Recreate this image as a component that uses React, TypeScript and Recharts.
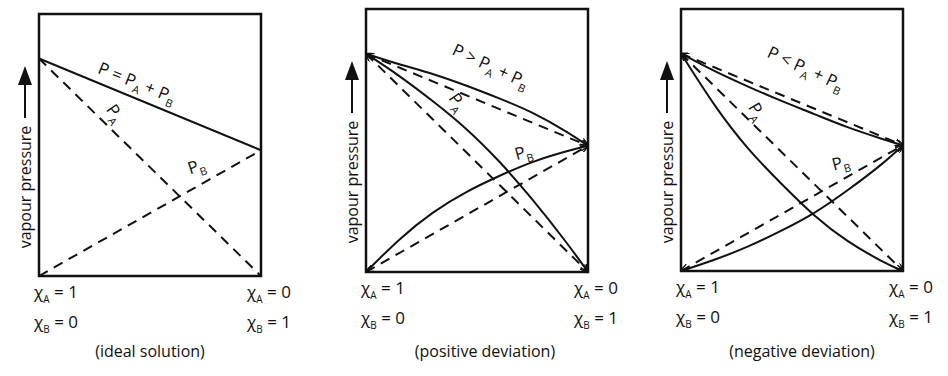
import React from 'react';
import {
  LineChart,
  Line,
  XAxis,
  YAxis,
  ReferenceArea,
  ReferenceDot,
} from 'recharts';

const FONT = "'Open Sans', 'DejaVu Sans', sans-serif";
const INK = '#111';

// mole fraction of B along the x axis (0 = pure A, 1 = pure B)
const edgeX = [0, 1];
const curveX = [0, 0.15, 0.3, 0.45, 0.6, 0.75, 0.9, 1];

// vapour pressure, as % of the box height
const idealTotal = [83, 48];
const idealA = [83, 0];
const idealB = [0, 48];

const posTotal = [83, 79, 75.3, 70.9, 66, 60.5, 53.5, 48];
const posA = [83, 74.5, 65, 54.5, 42, 27.5, 11.5, 0];
const posB = [0, 12.3, 22.5, 30.3, 36.5, 41.8, 45.8, 48];

const negTotal = [83, 76.4, 70.5, 65, 59.9, 54.9, 50.6, 48];
const negA = [83, 63.5, 47, 33.5, 21.3, 11.5, 4, 0];
const negB = [0, 4.3, 9.3, 15.3, 22.2, 30.8, 40.5, 48];

// tick labels under the two edges
const chiA = ['1', '0'];
const chiB = ['0', '1'];

const captions = ['(ideal solution)', '(positive deviation)', '(negative deviation)'];
const totalSigns = ['=', '>', '<'];

const rows = (xs: number[], vs: number[]) => xs.map((x, i) => ({ x, v: vs[i] }));

type Series = { data: { x: number; v: number }[]; dashed?: boolean; curved?: boolean; arrows?: boolean };
type Part = [string, string];
type Note = { x: number; v: number; angle: number; parts: Part[] };

const totalParts = (sign: string): Part[] => [
  ['P', ''],
  [` ${sign} `, ''],
  ['P', 'A'],
  [' + ', ''],
  ['P', 'B'],
];

const idealLines: Series[] = [
  { data: rows(edgeX, idealTotal), dashed: true, arrows: true },
  { data: rows(edgeX, idealA), dashed: true, arrows: true },
  { data: rows(edgeX, idealB), dashed: true, arrows: true },
];

const panels: {
  left: number;
  yw: number;
  right: number;
  top: number;
  axisH: number;
  capDx: number;
  lines: Series[];
  notes: Note[];
}[] = [
  {
    left: 0, yw: 39, right: 55, top: 14, axisH: 100, capDx: 0,
    lines: [
      { data: rows(edgeX, idealTotal) },
      { data: rows(edgeX, idealA), dashed: true },
      { data: rows(edgeX, idealB), dashed: true },
    ],
    notes: [
      { x: 0.44, v: 73.5, angle: 22, parts: totalParts(totalSigns[0]) },
      { x: 0.34, v: 62, angle: 55, parts: [['P', 'A']] },
      { x: 0.71, v: 41.6, angle: -18, parts: [['P', 'B']] },
    ],
  },
  {
    left: 316, yw: 50, right: 44, top: 9, axisH: 104, capDx: 8,
    lines: [
      ...idealLines,
      { data: rows(curveX, posTotal), curved: true, arrows: true },
      { data: rows(curveX, posA), curved: true, arrows: true },
      { data: rows(curveX, posB), curved: true, arrows: true },
    ],
    notes: [
      { x: 0.56, v: 78, angle: 25, parts: totalParts(totalSigns[1]) },
      { x: 0.41, v: 64.5, angle: 55, parts: [['P', 'A']] },
      { x: 0.71, v: 45.2, angle: -15, parts: [['P', 'B']] },
    ],
  },
  {
    left: 632, yw: 49, right: 45, top: 9, axisH: 105, capDx: 10,
    lines: [
      ...idealLines,
      { data: rows(curveX, negTotal), curved: true, arrows: true },
      { data: rows(curveX, negA), curved: true, arrows: true },
      { data: rows(curveX, negB), curved: true, arrows: true },
    ],
    notes: [
      { x: 0.56, v: 77, angle: 25, parts: totalParts(totalSigns[2]) },
      { x: 0.34, v: 60.7, angle: 60, parts: [['P', 'A']] },
      { x: 0.72, v: 41, angle: -15, parts: [['P', 'B']] },
    ],
  },
];

// text runs with lowered subscripts; the run after a subscript steps back up
const runs = (parts: Part[], big: number, small: number) => {
  const out: React.ReactNode[] = [];
  let low = false;
  parts.forEach(([main, sub], k) => {
    out.push(
      <tspan key={'m' + k} fontSize={big} dy={low ? -5 : undefined}>
        {main.replace(/ /g, '\u00a0')}
      </tspan>
    );
    low = false;
    if (sub) {
      out.push(
        <tspan key={'s' + k} fontSize={small} dy={5}>
          {sub}
        </tspan>
      );
      low = true;
    }
  });
  return out;
};

const MoleTick = (props: any) => {
  const { x, y, payload } = props;
  const i = payload.value === 0 ? 0 : 1;
  const tx = x + (i === 0 ? -5 : -14);
  return (
    <g fill={INK} fontFamily={FONT}>
      <text x={tx} y={y + 22} fontSize={16}>
        {runs([['\u03c7', 'A'], [' = ' + chiA[i], '']], 17, 10)}
      </text>
      <text x={tx} y={y + 52} fontSize={16}>
        {runs([['\u03c7', 'B'], [' = ' + chiB[i], '']], 17, 10)}
      </text>
    </g>
  );
};

const PressureLabel = ({ viewBox }: any) => {
  const cx = viewBox.x + viewBox.width - 14;
  const top = viewBox.y;
  const mid = top + 173;
  return (
    <g>
      <text
        x={cx}
        y={mid}
        transform={`rotate(-90, ${cx}, ${mid})`}
        textAnchor="middle"
        dominantBaseline="central"
        fontFamily={FONT}
        fontSize={16}
        fill={INK}
      >
        vapour pressure
      </text>
      <line x1={cx} y1={top + 104} x2={cx} y2={top + 68} stroke={INK} strokeWidth={2} />
      <polygon points={`${cx - 7},${top + 71} ${cx + 7},${top + 71} ${cx},${top + 52}`} fill={INK} />
    </g>
  );
};

const NoteLabel = ({ viewBox, note }: any) => {
  const cx = viewBox.x + viewBox.width / 2;
  const cy = viewBox.y + viewBox.height / 2;
  return (
    <text
      transform={`translate(${cx}, ${cy}) rotate(${note.angle})`}
      textAnchor="middle"
      y={5}
      fontFamily={FONT}
      fontSize={17}
      fill={INK}
    >
      {runs(note.parts, 17, 11)}
    </text>
  );
};

const Panel = ({ p, idx }: { p: (typeof panels)[number]; idx: number }) => (
  <div style={{ position: 'absolute', left: p.left, top: 0 }}>
    <LineChart
      width={316}
      height={376}
      margin={{ top: p.top, right: p.right, bottom: 0, left: 0 }}
    >
      <defs>
        <marker
          id={`head${idx}`}
          viewBox="0 0 10 8"
          refX={9}
          refY={4}
          markerWidth={9}
          markerHeight={7}
          markerUnits="userSpaceOnUse"
          orient="auto-start-reverse"
        >
          <path d="M0,0 L10,4 L0,8" fill="none" stroke={INK} strokeWidth={1.6} />
        </marker>
      </defs>
      <XAxis
        type="number"
        dataKey="x"
        domain={[0, 1]}
        ticks={edgeX}
        axisLine={false}
        tickLine={false}
        tickSize={0}
        tickMargin={0}
        height={p.axisH}
        tick={<MoleTick />}
        label={(lp: any) => {
          const vb = lp.viewBox;
          return (
            <text
              x={vb.x + vb.width / 2 + p.capDx}
              y={vb.y + vb.height - 19}
              textAnchor="middle"
              fontFamily={FONT}
              fontSize={16}
              fill={INK}
            >
              {captions[idx]}
            </text>
          );
        }}
      />
      <YAxis
        type="number"
        domain={[0, 100]}
        width={p.yw}
        axisLine={false}
        tickLine={false}
        tick={false}
        label={(lp: any) => <PressureLabel viewBox={lp.viewBox} />}
      />
      {p.lines.map((s, k) => (
        <Line
          key={k}
          data={s.data}
          dataKey="v"
          type={s.curved ? 'natural' : 'linear'}
          stroke={INK}
          strokeWidth={2}
          strokeDasharray={s.dashed ? '10 7' : undefined}
          markerEnd={s.arrows ? `url(#head${idx})` : undefined}
          markerStart={s.arrows && s.dashed ? `url(#head${idx})` : undefined}
          dot={false}
          activeDot={false}
          isAnimationActive={false}
        />
      ))}
      {p.notes.map((n, k) => (
        <ReferenceDot
          key={'n' + k}
          x={n.x}
          y={n.v}
          r={0}
          stroke="none"
          fill="none"
          label={(lp: any) => <NoteLabel viewBox={lp.viewBox} note={n} />}
        />
      ))}
      <ReferenceArea x1={0} x2={1} y1={0} y2={100} fill="none" stroke={INK} strokeWidth={2.5} fillOpacity={0} />
    </LineChart>
  </div>
);

export default function App() {
  return (
    <div style={{ position: 'absolute', left: 0, top: 0, width: 948, height: 376, background: '#fff' }}>
      {panels.map((p, i) => (
        <Panel key={i} p={p} idx={i} />
      ))}
    </div>
  );
}
